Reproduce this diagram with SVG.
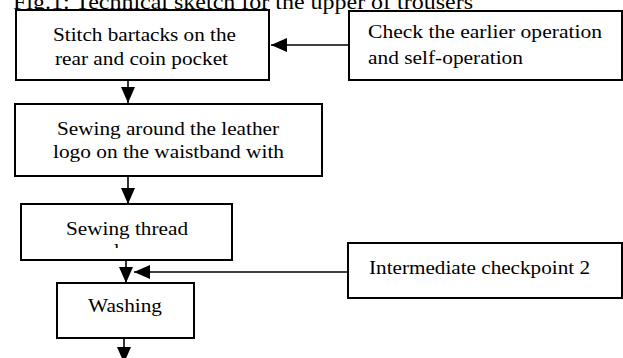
<svg xmlns="http://www.w3.org/2000/svg" width="623" height="358" viewBox="0 0 623 358">
  <style>
    .box { fill: #ffffff; stroke: #000000; stroke-width: 2; }
    .lbl { font-family: "Liberation Serif", "Times New Roman", serif; font-size: 19.5px; fill: #000000; }
    .title { font-family: "Liberation Serif", "Times New Roman", serif; font-size: 21px; fill: #000000; }
    .conn { stroke: #000000; stroke-width: 1.6; fill: none; marker-end: url(#arrow); }
  </style>
  <defs>
    <marker id="arrow" viewBox="0 0 16 14" refX="16" refY="7" markerWidth="16" markerHeight="14" markerUnits="userSpaceOnUse" orient="auto">
      <path d="M0,0 L16,7 L0,14 z" fill="#000000"/>
    </marker>
    <clipPath id="threadClip">
      <rect x="22" y="205" width="209" height="43"/>
    </clipPath>
  </defs>

  <rect x="0" y="0" width="623" height="358" fill="#ffffff"/>

  <text class="title" x="13" y="9" textLength="460" lengthAdjust="spacingAndGlyphs">Fig.1: Technical sketch for the upper of trousers</text>

  <g id="connectors">
    <line class="conn" x1="348" y1="45" x2="271" y2="45"/>
    <line class="conn" x1="128" y1="80" x2="128" y2="103"/>
    <line class="conn" x1="128" y1="176" x2="128" y2="204"/>
    <line class="conn" x1="126" y1="260" x2="126" y2="283"/>
    <line class="conn" x1="348" y1="272" x2="134" y2="272"/>
    <line class="conn" x1="124" y1="338" x2="124" y2="363"/>
  </g>

  <g id="stitch-bartacks">
    <rect class="box" x="16" y="10" width="253" height="70"/>
    <text class="lbl" x="53" y="41" textLength="183" lengthAdjust="spacingAndGlyphs">Stitch bartacks on the</text>
    <text class="lbl" x="55" y="65" textLength="173" lengthAdjust="spacingAndGlyphs">rear and coin pocket</text>
  </g>

  <g id="check-operation">
    <rect class="box" x="349" y="11" width="273" height="69"/>
    <text class="lbl" x="368" y="38" textLength="234" lengthAdjust="spacingAndGlyphs">Check the earlier operation</text>
    <text class="lbl" x="368" y="64" textLength="155" lengthAdjust="spacingAndGlyphs">and self-operation</text>
  </g>

  <g id="sewing-logo">
    <rect class="box" x="15" y="104" width="307" height="72"/>
    <text class="lbl" x="57" y="135" textLength="222" lengthAdjust="spacingAndGlyphs">Sewing around the leather</text>
    <text class="lbl" x="53" y="158" textLength="231" lengthAdjust="spacingAndGlyphs">logo on the waistband with</text>
  </g>

  <g id="sewing-thread">
    <rect class="box" x="21" y="204" width="211" height="56"/>
    <text class="lbl" x="66" y="235" textLength="122" lengthAdjust="spacingAndGlyphs">Sewing thread</text>
    <g clip-path="url(#threadClip)">
      <text class="lbl" x="114" y="257">l</text>
    </g>
  </g>

  <g id="washing">
    <rect class="box" x="57" y="283" width="137" height="55"/>
    <text class="lbl" x="88" y="312" textLength="74" lengthAdjust="spacingAndGlyphs">Washing</text>
  </g>

  <g id="checkpoint-2">
    <rect class="box" x="348" y="243" width="274" height="55"/>
    <text class="lbl" x="369" y="274" textLength="221" lengthAdjust="spacingAndGlyphs">Intermediate checkpoint 2</text>
  </g>
</svg>
